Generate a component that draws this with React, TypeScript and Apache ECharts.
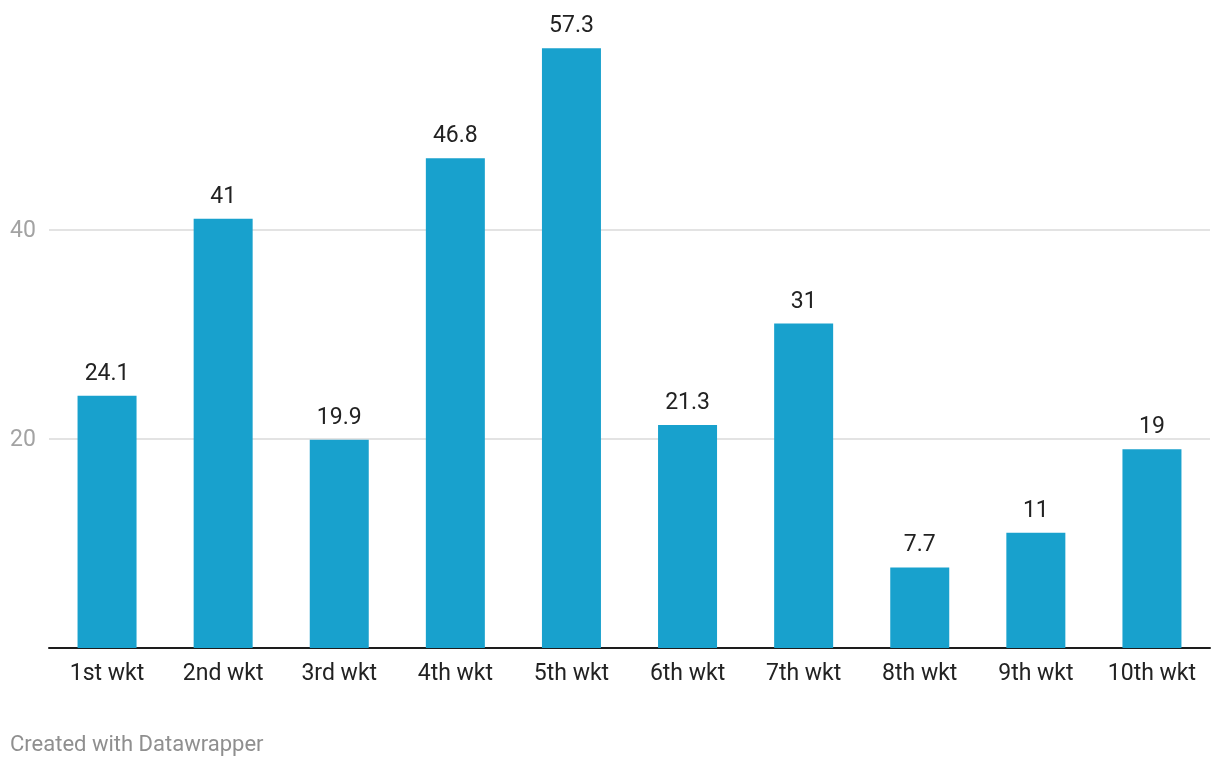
import React, { useEffect, useRef } from "react";
import * as echarts from "echarts";

const categories = ["1st wkt", "2nd wkt", "3rd wkt", "4th wkt", "5th wkt", "6th wkt", "7th wkt", "8th wkt", "9th wkt", "10th wkt"];
const values = [24.1, 41, 19.9, 46.8, 57.3, 21.3, 31, 7.7, 11, 19];
const shownTicks = [20, 40];
const footer = "Created with Datawrapper";

export default function App() {
  const ref = useRef<HTMLDivElement>(null);
  useEffect(() => {
    const chart = echarts.init(ref.current!, null, { renderer: "svg" });
    chart.setOption({
      animation: false,
      grid: { left: 49, right: 10, top: 20, bottom: 120 },
      xAxis: {
        type: "category",
        data: categories,
        axisTick: { show: false },
        axisLine: { show: true, lineStyle: { color: "#1d1d1d", width: 2 } },
        axisLabel: { color: "#222", fontSize: 23, fontFamily: "Roboto", margin: 13 },
      },
      yAxis: {
        type: "value",
        min: 0,
        max: 60,
        interval: 20,
        axisLine: { show: false },
        axisTick: { show: false },
        axisLabel: {
          color: "#a3a3a3",
          fontSize: 23,
          fontFamily: "Roboto",
          align: "left",
          margin: 39,
          formatter: (v: number) => (shownTicks.includes(v) ? String(v) : ""),
        },
        splitLine: {
          show: true,
          lineStyle: { color: ["transparent", "#e3e3e3", "#e3e3e3", "transparent"], width: 2 },
        },
      },
      series: [
        {
          type: "bar",
          data: values,
          barWidth: 59,
          itemStyle: { color: "#18a1cd" },
          label: {
            show: true,
            position: "top",
            distance: 12,
            color: "#222",
            fontSize: 23,
            fontFamily: "Roboto",
          },
        },
      ],
      graphic: [
        {
          type: "text",
          left: 10,
          top: 732,
          style: { text: footer, fill: "#8f8f8f", font: "22px Roboto" },
        },
      ],
    });
    return () => chart.dispose();
  }, []);
  return <div ref={ref} style={{ position: "fixed", left: 0, top: 0, width: 1220, height: 768 }} />;
}
